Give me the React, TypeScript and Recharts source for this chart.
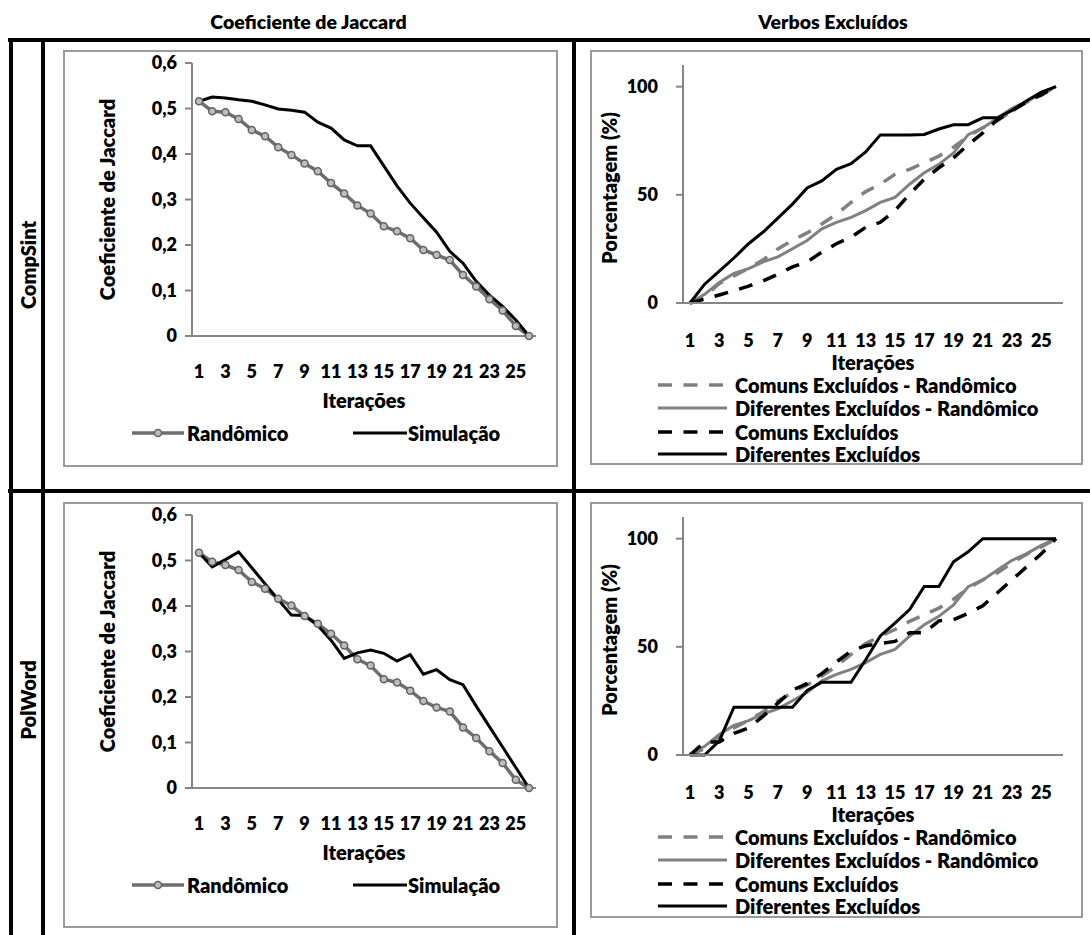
import React from 'react';
import { LineChart, Line, XAxis, YAxis } from 'recharts';

// ---------- data ----------
const iterations = [1, 2, 3, 4, 5, 6, 7, 8, 9, 10, 11, 12, 13, 14, 15, 16, 17, 18, 19, 20, 21, 22, 23, 24, 25, 26];

const compSintJaccardRandom = [0.516, 0.494, 0.492, 0.477, 0.453, 0.439, 0.415, 0.398, 0.379, 0.362, 0.336, 0.313, 0.287, 0.269, 0.241, 0.23, 0.215, 0.189, 0.178, 0.167, 0.134, 0.109, 0.081, 0.056, 0.022, 0];
const compSintJaccardSim = [0.516, 0.525, 0.523, 0.519, 0.516, 0.508, 0.499, 0.496, 0.492, 0.47, 0.457, 0.431, 0.418, 0.418, 0.374, 0.33, 0.292, 0.26, 0.228, 0.186, 0.16, 0.12, 0.09, 0.065, 0.035, 0];

const polWordJaccardRandom = [0.517, 0.497, 0.49, 0.479, 0.453, 0.438, 0.416, 0.401, 0.378, 0.361, 0.339, 0.313, 0.283, 0.269, 0.239, 0.232, 0.214, 0.191, 0.177, 0.168, 0.133, 0.11, 0.081, 0.055, 0.018, 0];
const polWordJaccardSim = [0.517, 0.486, 0.502, 0.519, 0.484, 0.449, 0.414, 0.38, 0.379, 0.357, 0.325, 0.285, 0.297, 0.303, 0.296, 0.279, 0.293, 0.25, 0.26, 0.238, 0.227, 0.18, 0.135, 0.09, 0.045, 0];

const compSintComunsRand = [0, 3, 9, 12.5, 16, 20, 25, 29, 32.4, 36.5, 41, 46.5, 51.5, 54.9, 59.5, 61.8, 64.8, 67.9, 72, 77, 81, 84.2, 88.8, 92.8, 96.2, 100];
const compSintDiffRand = [0, 4, 9.5, 13.7, 15.9, 19, 21.3, 25.1, 28.9, 34.3, 37.3, 39.6, 42.7, 46.5, 48.8, 54.9, 60.2, 64.1, 69.4, 77.8, 80.9, 85.5, 90, 93.1, 96.9, 100];
const compSintComuns = [0, 1.8, 3.7, 5.7, 7.8, 10.2, 13.3, 16.7, 19, 23.5, 27.4, 30.4, 35, 37.3, 42.7, 50.3, 57.2, 62.5, 67.1, 73.2, 78.6, 84.7, 88.8, 93.1, 96.2, 100];
const compSintDiff = [0, 8.7, 14.7, 20.8, 27.4, 32.8, 39.2, 45.7, 53.2, 56.4, 61.8, 64.4, 69.8, 77.7, 77.7, 77.7, 77.9, 80.4, 82.4, 82.4, 85.6, 85.6, 89, 93.5, 97.5, 100];

const polWordComunsRand = [0, 3, 9, 12.5, 16, 20, 25, 29, 32.4, 36.5, 41, 46.5, 51.5, 54.9, 58, 61.8, 64.8, 67.9, 72, 77, 81, 84.2, 88.8, 92.8, 96.2, 100];
const polWordDiffRand = [0, 4, 9.5, 13.7, 15.9, 19, 21.3, 25.1, 28.9, 34.3, 37.3, 39.6, 42.7, 46.5, 48.8, 54.9, 60.2, 64.1, 69.4, 77.8, 80.9, 85.5, 90, 93.1, 96.9, 100];
const polWordComuns = [0, 6, 6, 10, 12.5, 18, 24, 30, 33, 37.6, 43, 48, 50.5, 51.5, 52.5, 56.5, 56.5, 62, 62.5, 65.5, 69, 75, 81, 87, 93, 100];
const polWordDiff = [0, 0, 6.5, 22.1, 22.1, 22.1, 22.1, 22.1, 29.8, 33.6, 33.6, 33.6, 44, 55, 61, 67.2, 77.9, 77.9, 89.3, 93.9, 100, 100, 100, 100, 100, 100];

const jaccardTicks = [0, 0.1, 0.2, 0.3, 0.4, 0.5, 0.6];
const percentTicks = [0, 50, 100];

const columnHeaders = ['Coeficiente de Jaccard', 'Verbos Excluídos'];
const rowHeaders = ['CompSint', 'PolWord'];
const jaccardSeriesNames = ['Randômico', 'Simulação'];
const verbosSeriesNames = ['Comuns Excluídos - Randômico', 'Diferentes Excluídos - Randômico', 'Comuns Excluídos', 'Diferentes Excluídos'];

// ---------- styles ----------
const FONT = 'Lato, "Open Sans", sans-serif';
const W = 800;
const AXIS = '#868686';
const GRAY = '#808080';
const RAND_GRAY = '#6e6e6e';
const DASH = '14 11.5';
const tickStyle = { fill: '#000', fontSize: 18, fontWeight: W };
const titleProps = { fill: '#000', fontSize: 20, fontWeight: W };

const fmtComma = (v: number) => (v === 0 ? '0' : v.toFixed(1).replace('.', ','));

const verbosStyles = [
  { key: 'comunsRand', color: GRAY, width: 3.5, dash: DASH },
  { key: 'diffRand', color: GRAY, width: 3, dash: undefined },
  { key: 'comuns', color: '#000', width: 3.5, dash: DASH },
  { key: 'diff', color: '#000', width: 3, dash: undefined },
];

function Frame({ left, top, width, height }: any) {
  return (
    <div
      style={{
        position: 'absolute', left, top, width, height,
        border: '2px solid #9a9a9a', boxSizing: 'border-box', background: '#fff',
      }}
    />
  );
}

const legendText = { position: 'absolute' as const, fontSize: 20, fontWeight: W, lineHeight: '26px', whiteSpace: 'nowrap' as const };

function JaccardChart({ top, height, rand, sim }: any) {
  const left = 63;
  const width = 495;
  const plotTop = 13;
  const plotH = 273;
  const data = iterations.map((it, i) => ({ it, rand: rand[i], sim: sim[i] }));
  const legendY = 383;
  return (
    <>
      <Frame left={left} top={top} width={width} height={height} />
      <div style={{ position: 'absolute', left, top, width, height }}>
        <LineChart width={width} height={height} data={data} margin={{ top: plotTop, right: 22, left: 0, bottom: 0 }}>
          <XAxis
            dataKey="it"
            interval={1}
            tickLine={false}
            tickSize={0}
            tickMargin={29}
            axisLine={{ stroke: AXIS, strokeWidth: 2 }}
            tick={tickStyle}
            padding={{ left: 7, right: 7 }}
            height={height - plotTop - plotH}
            label={{ value: 'Iterações', position: 'insideTop', offset: 58, ...titleProps }}
          />
          <YAxis
            domain={[0, 0.6]}
            ticks={jaccardTicks}
            width={129}
            tickSize={7}
            tickMargin={8}
            tickLine={{ stroke: AXIS, strokeWidth: 2 }}
            axisLine={{ stroke: AXIS, strokeWidth: 2 }}
            tick={tickStyle}
            tickFormatter={fmtComma}
            label={{ value: 'Coeficiente de Jaccard', angle: -90, position: 'center', dx: -20, ...titleProps }}
          />
          <Line
            type="linear"
            dataKey="rand"
            name={jaccardSeriesNames[0]}
            stroke={RAND_GRAY}
            strokeWidth={3.5}
            dot={{ r: 3.5, fill: '#bdbdbd', stroke: '#626262', strokeWidth: 1.5 }}
            isAnimationActive={false}
          />
          <Line
            type="linear"
            dataKey="sim"
            name={jaccardSeriesNames[1]}
            stroke="#000"
            strokeWidth={3}
            dot={false}
            isAnimationActive={false}
          />
        </LineChart>
      </div>
      <div style={{ position: 'absolute', left, top, width: 0, height: 0, fontFamily: FONT }}>
        <svg style={{ position: 'absolute', left: 69, top: legendY - 6 }} width={52} height={12}>
          <line x1={0} y1={6} x2={52} y2={6} stroke={RAND_GRAY} strokeWidth={3.5} />
          <circle cx={26} cy={6} r={3.5} fill="#bdbdbd" stroke="#626262" strokeWidth={1.5} />
        </svg>
        <span style={{ ...legendText, left: 124, top: legendY - 13 }}>{jaccardSeriesNames[0]}</span>
        <svg style={{ position: 'absolute', left: 290, top: legendY - 6 }} width={54} height={12}>
          <line x1={0} y1={6} x2={54} y2={6} stroke="#000" strokeWidth={3} />
        </svg>
        <span style={{ ...legendText, left: 345, top: legendY - 13 }}>{jaccardSeriesNames[1]}</span>
      </div>
    </>
  );
}

function VerbosChart({ top, height, comunsRand, diffRand, comuns, diff }: any) {
  const left = 590;
  const width = 493;
  const plotTop = 15;
  const plotH = 238;
  const data = iterations.map((it, i) => ({
    it,
    comunsRand: comunsRand[i],
    diffRand: diffRand[i],
    comuns: comuns[i],
    diff: diff[i],
  }));
  const rows = [335, 358, 381.5, 403.5];
  return (
    <>
      <Frame left={left} top={top} width={width} height={height} />
      <div style={{ position: 'absolute', left, top, width, height }}>
        <LineChart width={width} height={height} data={data} margin={{ top: plotTop, right: 20, left: 0, bottom: 0 }}>
          <XAxis
            dataKey="it"
            interval={1}
            tickLine={false}
            tickSize={0}
            tickMargin={31}
            axisLine={{ stroke: AXIS, strokeWidth: 2 }}
            tick={tickStyle}
            padding={{ left: 7, right: 7 }}
            height={height - plotTop - plotH}
            label={{ value: 'Iterações', position: 'insideTop', offset: 53, ...titleProps }}
          />
          <YAxis
            domain={[0, 110]}
            ticks={percentTicks}
            width={93}
            tickSize={7}
            tickMargin={18}
            tickLine={{ stroke: AXIS, strokeWidth: 2 }}
            axisLine={{ stroke: AXIS, strokeWidth: 2 }}
            tick={tickStyle}
            label={{ value: 'Porcentagem (%)', angle: -90, position: 'center', dx: -27, dy: 4, ...titleProps }}
          />
          {verbosStyles.map((s, i) => (
            <Line
              key={s.key}
              type="linear"
              dataKey={s.key}
              name={verbosSeriesNames[i]}
              stroke={s.color}
              strokeWidth={s.width}
              strokeDasharray={s.dash}
              dot={false}
              isAnimationActive={false}
            />
          ))}
        </LineChart>
      </div>
      <div style={{ position: 'absolute', left, top, width: 0, height: 0, fontFamily: FONT }}>
        {verbosStyles.map((s, i) => (
          <React.Fragment key={s.key}>
            <svg style={{ position: 'absolute', left: 68, top: rows[i] - 6 }} width={69} height={12}>
              <line x1={0} y1={6} x2={69} y2={6} stroke={s.color} strokeWidth={s.width} strokeDasharray={s.dash} />
            </svg>
            <span style={{ ...legendText, left: 145, top: rows[i] - 13 }}>{verbosSeriesNames[i]}</span>
          </React.Fragment>
        ))}
      </div>
    </>
  );
}

const black = (style: any) => <div style={{ position: 'absolute', background: '#000', ...style }} />;

const rowLabel = { position: 'absolute' as const, transform: 'translate(-50%, -50%) rotate(-90deg)', fontSize: 20, fontWeight: W, whiteSpace: 'nowrap' as const, lineHeight: '22px' };
const colLabel = { position: 'absolute' as const, top: 9, textAlign: 'center' as const, fontSize: 19.5, fontWeight: W, lineHeight: '26px' };

export default function App() {
  return (
    <div
      style={{
        position: 'absolute', left: 0, top: 0, width: 1090, height: 935,
        background: '#fff', overflow: 'hidden', fontFamily: FONT, color: '#000',
      }}
    >
      {/* column headers */}
      <div style={{ ...colLabel, left: 45, width: 527 }}>{columnHeaders[0]}</div>
      <div style={{ ...colLabel, left: 576, width: 514 }}>{columnHeaders[1]}</div>

      {/* table lines */}
      {black({ left: 8, top: 38, width: 1082, height: 4 })}
      {black({ left: 8, top: 489, width: 1082, height: 4 })}
      {black({ left: 9, top: 38, width: 4, height: 897 })}
      {black({ left: 41, top: 38, width: 4, height: 897 })}
      {black({ left: 572, top: 38, width: 4, height: 897 })}

      {/* row headers */}
      <div style={{ position: 'absolute', left: 28, top: 265, width: 0, height: 0 }}>
        <div style={rowLabel}>{rowHeaders[0]}</div>
      </div>
      <div style={{ position: 'absolute', left: 28, top: 700, width: 0, height: 0 }}>
        <div style={rowLabel}>{rowHeaders[1]}</div>
      </div>

      <JaccardChart top={50} height={417} rand={compSintJaccardRandom} sim={compSintJaccardSim} />
      <VerbosChart top={50} height={415} comunsRand={compSintComunsRand} diffRand={compSintDiffRand} comuns={compSintComuns} diff={compSintDiff} />
      <JaccardChart top={502} height={426} rand={polWordJaccardRandom} sim={polWordJaccardSim} />
      <VerbosChart top={502} height={416} comunsRand={polWordComunsRand} diffRand={polWordDiffRand} comuns={polWordComuns} diff={polWordDiff} />
    </div>
  );
}
